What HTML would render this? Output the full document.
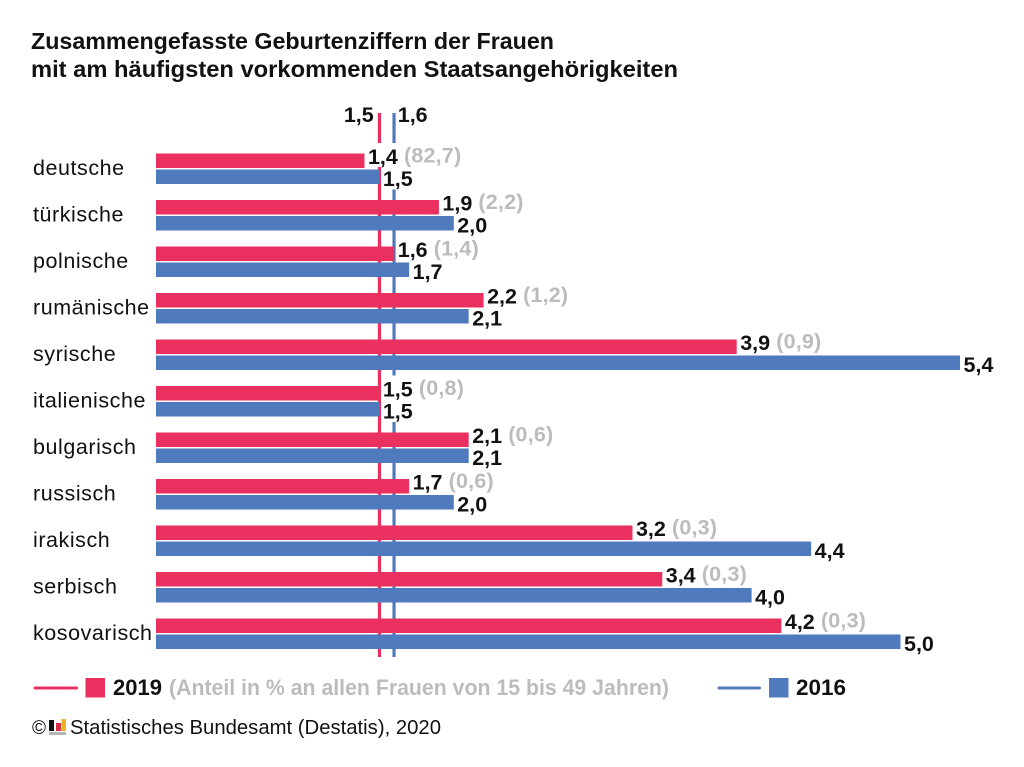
<!DOCTYPE html>
<html lang="de">
<head>
<meta charset="utf-8">
<title>Zusammengefasste Geburtenziffern</title>
<style>
html,body{margin:0;padding:0;background:#fff;}
svg{display:block;font-family:"Liberation Sans",sans-serif;}
.val{font-size:21.5px;font-weight:bold;fill:#111;}
.share{font-size:21.5px;font-weight:bold;fill:#bcbcbc;letter-spacing:.2px;}
.cat{font-size:21.5px;fill:#111;letter-spacing:.55px;}
</style>
</head>
<body>
<svg id="chart" width="1024" height="767" viewBox="0 0 1024 767" xmlns="http://www.w3.org/2000/svg">
  <text x="31" y="49" font-size="23" font-weight="bold" fill="#111" textLength="523" lengthAdjust="spacingAndGlyphs">Zusammengefasste Geburtenziffern der Frauen</text>
  <text x="31" y="77" font-size="23" font-weight="bold" fill="#111" textLength="647" lengthAdjust="spacingAndGlyphs">mit am häufigsten vorkommenden Staatsangehörigkeiten</text>
  <g id="plot"></g>
  <line x1="35" x2="76.5" y1="688" y2="688" stroke="#e9305f" stroke-width="3" stroke-linecap="round"/>
  <rect x="85.5" y="678" width="19.5" height="19.5" fill="#e9305f"/>
  <text x="113" y="695" font-size="22" font-weight="bold" fill="#111" textLength="49" lengthAdjust="spacingAndGlyphs">2019</text>
  <text x="169" y="695" font-size="22" font-weight="bold" fill="#bcbcbc" textLength="500" lengthAdjust="spacingAndGlyphs">(Anteil in % an allen Frauen von 15 bis 49 Jahren)</text>
  <line x1="719" x2="759.5" y1="688" y2="688" stroke="#4f7abd" stroke-width="3" stroke-linecap="round"/>
  <rect x="769" y="678" width="19.5" height="19.5" fill="#4f7abd"/>
  <text x="796" y="695" font-size="22" font-weight="bold" fill="#111" textLength="50" lengthAdjust="spacingAndGlyphs">2016</text>
  <text x="32" y="734" font-size="19" fill="#111">©</text>
  <g>
    <rect x="49" y="720" width="5" height="11" fill="#111"/>
    <rect x="56" y="723" width="5" height="8" fill="#d8304a"/>
    <rect x="61.5" y="719" width="4.5" height="12" fill="#f0b323"/>
    <rect x="49" y="732" width="17" height="3" fill="#b5b5b5"/>
  </g>
  <text x="70" y="734" font-size="20" fill="#111" textLength="371" lengthAdjust="spacingAndGlyphs">Statistisches Bundesamt (Destatis), 2020</text>
</svg>
<script>
const categories = ["deutsche","türkische","polnische","rumänische","syrische","italienische","bulgarisch","russisch","irakisch","serbisch","kosovarisch"];
const values2019 = [1.4,1.9,1.6,2.2,3.9,1.5,2.1,1.7,3.2,3.4,4.2];
const values2016 = [1.5,2.0,1.7,2.1,5.4,1.5,2.1,2.0,4.4,4.0,5.0];
const shares = [82.7,2.2,1.4,1.2,0.9,0.8,0.6,0.6,0.3,0.3,0.3];
const average2019 = 1.5;
const average2016 = 1.6;

const PINK = "#e9305f";
const BLUE = "#4f7abd";
const plot = document.getElementById("plot");
const NS = "http://www.w3.org/2000/svg";
function xScale(v){ return 156 + v * 148.9; }
function rowTop(i){ return 153.5 + i * 46.5; }
function fmt(v){ return v.toFixed(1).replace(".", ","); }
function make(tag, attrs, text){
  const el = document.createElementNS(NS, tag);
  for (const k in attrs) el.setAttribute(k, attrs[k]);
  if (text !== undefined) el.textContent = text;
  return el;
}

const lineA = make("rect", {x: xScale(average2019) - 1.5, y: 113, width: 3.2, height: 544, fill: PINK});


plot.appendChild(lineA);
const lineB = make("rect", {x: xScale(average2016) - 1.8, y: 113, width: 3.2, height: 544, fill: BLUE});


plot.appendChild(lineB);

const avgA = make("text", {x: xScale(average2019) - 35.5, y: 122, class: "val"}, fmt(average2019));


plot.appendChild(avgA);
const avgB = make("text", {x: xScale(average2016) + 3.5, y: 122, class: "val"}, fmt(average2016));


plot.appendChild(avgB);

categories.forEach(function(cat, i){
  const top = rowTop(i);
  const endA = xScale(values2019[i]);
  const endB = xScale(values2016[i]);

  const maskA = make("rect", {x: endA + 3.5, y: top - 10.5, width: 32, height: 24, fill: "#fff"});
  
  
  plot.appendChild(maskA);
  const maskB = make("rect", {x: endB + 3.5, y: top + 12, width: 32, height: 24, fill: "#fff"});
  
  
  plot.appendChild(maskB);

  const barA = make("rect", {x: 156, y: top, width: endA - 156, height: 14.5, fill: PINK});
  
  
  plot.appendChild(barA);
  const barB = make("rect", {x: 156, y: top + 16, width: endB - 156, height: 14.5, fill: BLUE});
  
  
  plot.appendChild(barB);

  const label = make("text", {x: 33, y: top + 21.5, class: "cat"}, cat);
  
  
  plot.appendChild(label);

  const vA = make("text", {x: endA + 3.5, y: top + 10.5, class: "val"}, fmt(values2019[i]));
  
  
  plot.appendChild(vA);
  const vB = make("text", {x: endB + 3.5, y: top + 32.5, class: "val"}, fmt(values2016[i]));
  
  
  plot.appendChild(vB);

  const s = make("text", {x: endA + 39.5, y: top + 9, class: "share"}, "(" + fmt(shares[i]) + ")");
  
  
  plot.appendChild(s);
});
</script>
</body>
</html>
